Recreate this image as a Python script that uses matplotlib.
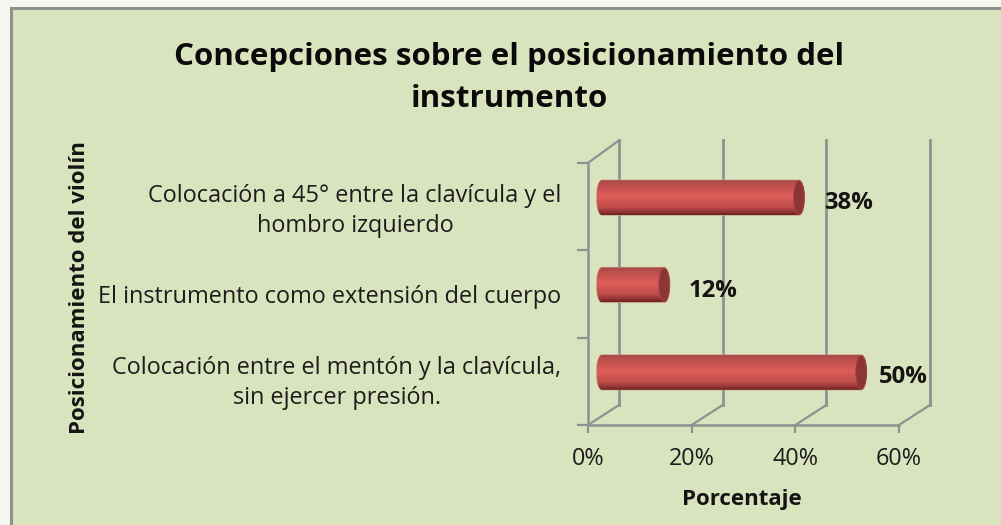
"""Concepciones sobre el posicionamiento del instrumento - 3D look cylinder bars."""

import matplotlib
matplotlib.use("Agg")
import matplotlib.pyplot as plt
from matplotlib.patches import Ellipse, Polygon, Rectangle
from matplotlib.colors import LinearSegmentedColormap
from matplotlib.transforms import ScaledTranslation
import numpy as np

categories = [
    "Colocación entre el mentón y la clavícula,\nsin ejercer presión.",
    "El instrumento como extensión del cuerpo",
    "Colocación a 45° entre la clavícula y el\nhombro izquierdo",
]
values = [50, 12, 38]
xticks = [0, 20, 40, 60]
title = "Concepciones sobre el posicionamiento del\ninstrumento"
xlabel = "Porcentaje"
ylabel = "Posicionamiento del violín"

W, H = 1001, 525
GREY = "#8e9290"
BG = "#d9e3bd"
plt.rcParams["font.family"] = ["Open Sans", "DejaVu Sans"]

fig = plt.figure(figsize=(W / 100, H / 100), dpi=100, facecolor="#f6f8f0")
fig.patches.append(Rectangle((10.5 / W, -0.01), 1.1, (H - 8) / H + 0.01, transform=fig.transFigure,
                             facecolor=BG, edgecolor=GREY, linewidth=2.2, figure=fig, zorder=-1))

# plot box in pixels: x 588-899, y 163-425
ax = fig.add_axes([588 / W, (H - 425) / H, (899 - 588) / W, (425 - 163) / H])
ax.patch.set_alpha(0)

px_x = 60 / (899 - 588)  # data units per pixel
px_y = 3 / (425 - 163)
back_dx, back_dy = 31 * px_x, 20 * px_y
top = 3.26

# back wall and floor
for t in xticks:
    ax.plot([t + back_dx, t + back_dx], [back_dy, top], color=GREY, lw=2, clip_on=False, zorder=1)
    ax.plot([t, t + back_dx], [0, back_dy], color=GREY, lw=1.6, clip_on=False, zorder=1)
ax.plot([0, back_dx], [3, top], color=GREY, lw=1.6, clip_on=False, zorder=1)

# cylinders
cmap = LinearSegmentedColormap.from_list(
    "cyl", [(0, "#a84a48"), (0.15, "#bf4f4d"), (0.45, "#de5e5b"), (0.78, "#c04c4a"), (0.95, "#862d2d"), (1, "#6a2222")])
grad = np.linspace(0, 1, 64).reshape(-1, 1)
depth_x, depth_y = 14 * px_x, 9 * px_y
half_h = 17.5 * px_y
cap_a = 5.5 * px_x
theta = np.linspace(-np.pi / 2, np.pi / 2, 40)
for i, v in enumerate(values):
    x0, x1 = depth_x, v + depth_x
    yc = i + 0.5 + depth_y
    left = np.column_stack([x0 - cap_a * np.cos(theta), yc + half_h * np.sin(theta)])
    right = np.column_stack([x1 + cap_a * np.cos(theta[::-1]), yc + half_h * np.sin(theta[::-1])])
    outline = Polygon(np.vstack([left, right]), closed=True, transform=ax.transData,
                      facecolor="none", edgecolor="#c9a58c", linewidth=0.8, zorder=3, clip_on=False)
    ax.add_patch(outline)
    im = ax.imshow(grad, extent=(x0 - cap_a, x1 + cap_a, yc - half_h, yc + half_h), aspect="auto",
                   cmap=cmap, origin="upper", zorder=3.2)
    im.set_clip_path(outline)
    ax.add_patch(Ellipse((x1, yc), 2 * cap_a, 2 * half_h * 0.97, facecolor="#8b3635",
                         edgecolor="#a34745", linewidth=0.6, zorder=4))

# value labels, shifted a little by hand to sit like the original
label_gap = {50: 12, 12: 19, 38: 20}
label_dy = {50: -0.05, 12: -0.07, 38: -0.06}
for i, v in enumerate(values):
    ax.text(v + depth_x + (5.5 + label_gap[v]) * px_x, i + 0.5 + depth_y + label_dy[v], f"{v}%",
            fontsize=17.2, fontweight="bold", color="#141414", ha="left", va="center", zorder=5, clip_on=False)

ax.set_xlim(0, 60)
ax.set_ylim(0, 3)
ax.set_xticks(xticks)
ax.set_xticklabels([f"{t}%" for t in xticks], fontsize=16.8, color="#1c1c1c")
ax.set_yticks([0, 1, 2, 3])
ax.set_yticklabels([])
ax.set_yticks([0.5, 1.5, 2.5], minor=True)
ax.set_yticklabels(categories, minor=True, fontsize=16.9, color="#1c1c1c", linespacing=1.33,
                   multialignment="center")
ax.tick_params(axis="y", which="minor", length=0, pad=19)
ax.tick_params(axis="y", which="major", length=8, width=1.6, color=GREY)
ax.tick_params(axis="x", length=6, width=1.6, color=GREY, pad=10)
for s in ["top", "right"]:
    ax.spines[s].set_visible(False)
for s in ["left", "bottom"]:
    ax.spines[s].set_color(GREY)
    ax.spines[s].set_linewidth(1.8)

# two-line labels sit a bit higher in the original
nudges = [3, 0, 1.5]
for lab, pts in zip(ax.get_yticklabels(minor=True), nudges):
    lab.set_transform(lab.get_transform() + ScaledTranslation(0, pts / 72, fig.dpi_scale_trans))

fig.text(509 / W, 1 - 78 / H, title, ha="center", va="center", fontsize=22.5, fontweight="bold",
         color="#0a0a0a", linespacing=1.54)
fig.text(742 / W, 1 - 500 / H, xlabel, ha="center", va="center", fontsize=16, fontweight="bold", color="#141414")
fig.text(80 / W, 1 - 288 / H, ylabel, ha="center", va="center", rotation=90, fontsize=16,
         fontweight="bold", color="#141414")

fig.savefig("out.png", dpi=100, facecolor=fig.get_facecolor())
plt.close(fig)
